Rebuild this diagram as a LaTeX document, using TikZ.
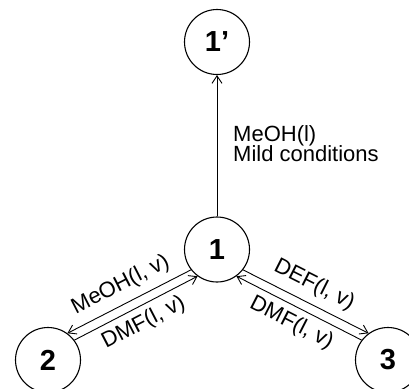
\documentclass[tikz,border=0pt]{standalone}
\usepackage{fontspec}
\setmainfont{Liberation Sans}
\usetikzlibrary{arrows.meta}
\begin{document}
\begin{tikzpicture}[x=1pt,y=-1pt,
  state/.style={circle,draw,line width=1.1pt,minimum size=65pt,inner sep=0pt,font=\fontsize{29}{30}\selectfont\bfseries},
  tip/.tip={Straight Barb[length=7.5pt,width=10pt]},
  arr/.style={line width=0.9pt,-tip},
  rarr/.style={line width=0.9pt,tip-},
  lbl/.style={font=\fontsize{22}{20.7}\selectfont,inner sep=0pt}]
\useasboundingbox (0,0) rectangle (409,388);
\clip (0,0) rectangle (409,388);
\node[state] (n1p) at (217,42) {1’};
\node[state] (n1) at (217,249.5) {1};
\node[state] (n2) at (48,360) {2};
\node[state] (n3) at (388,360) {3};
\draw[arr] (n1) -- (n1p);
\node[lbl, anchor=north west, align=left] (cond) at (233,125) {MeOH(l)\\Mild conditions};
\draw[rarr] (n2.54) -- (n1.218) node[lbl, midway, sloped, above=8pt] (l2a) {MeOH(l, v)};
\draw[arr] (n2.37) -- (n1.234) node[lbl, midway, sloped, below=6pt] (l2b) {DMF(l, v)};
\draw[arr] (n1.-38) -- (n3.126) node[lbl, midway, sloped, above=8pt] (l3a) {DEF(l, v)};
\draw[rarr] (n1.-54) -- (n3.143) node[lbl, midway, sloped, below=6pt] (l3b) {DMF(l, v)};
\end{tikzpicture}
\end{document}
